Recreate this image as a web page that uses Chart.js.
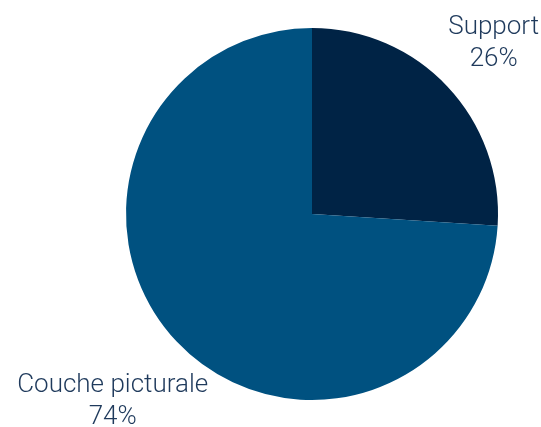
<!DOCTYPE html>
<html>
<head>
<meta charset="utf-8">
<script src="https://cdn.jsdelivr.net/npm/chart.js@4"></script>
<style>
  html, body { margin: 0; padding: 0; background: #fff; }
  #wrap { width: 541px; height: 427px; }
</style>
</head>
<body>
<div id="wrap"><canvas id="myChart"></canvas></div>
<script>
const labels = ['Support', 'Couche picturale'];
const values = [26, 74];
const colors = ['#002345', '#005180'];
// label distance from centre, in radii
const labelDist = [1.34, 1.47];

const sliceLabels = {
  id: 'sliceLabels',
  afterDraw(chart) {
    const c = chart.ctx;
    const meta = chart.getDatasetMeta(0);
    c.save();
    c.fillStyle = '#1f3a5c';
    c.font = '300 26px Roboto';
    c.textAlign = 'center';
    c.textBaseline = 'middle';
    meta.data.forEach((arc, i) => {
      const mid = (arc.startAngle + arc.endAngle) / 2;
      const d = arc.outerRadius * labelDist[i];
      const x = arc.x + Math.cos(mid) * d;
      const y = arc.y + Math.sin(mid) * d;
      c.fillText(labels[i], x, y - 16);
      c.fillText(values[i] + '%', x, y + 16);
    });
    c.restore();
  }
};

new Chart(document.getElementById('myChart'), {
  type: 'pie',
  data: {
    labels: labels,
    datasets: [{
      data: values,
      backgroundColor: colors,
      borderWidth: 0
    }]
  },
  options: {
    responsive: true,
    maintainAspectRatio: false,
    animation: false,
    layout: { padding: { left: 126, right: 43, top: 28, bottom: 27 } },
    plugins: {
      legend: { display: false },
      tooltip: { enabled: false }
    }
  },
  plugins: [sliceLabels]
});
</script>
</body>
</html>
